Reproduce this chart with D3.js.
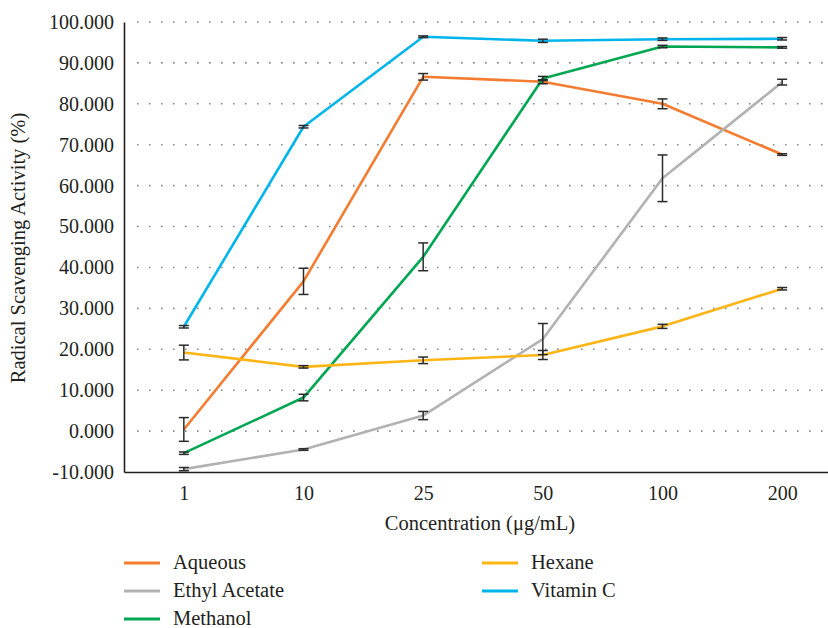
<!DOCTYPE html>
<html>
<head>
<meta charset="utf-8">
<title>Radical Scavenging Activity</title>
<script src="https://cdnjs.cloudflare.com/ajax/libs/d3/7.8.5/d3.min.js"></script>
<style>
body {
  margin: 0;
  background: #fff;
}
text {
  font-family: "Liberation Serif", "Times New Roman", serif;
  fill: #231f20;
}
.tick text { font-size: 20px; }
.title { font-size: 20.5px; }
.legend text { font-size: 20.5px; }
.grid line {
  stroke: #8a8a8a;
  stroke-width: 1.6px;
  stroke-dasharray: 1.6 10.4;
}
</style>
</head>
<body>
<svg id="chart" width="828" height="628"></svg>
<script>
// values
var concentrations = ["1", "10", "25", "50", "100", "200"];
var yTicks = [-10, 0, 10, 20, 30, 40, 50, 60, 70, 80, 90, 100];

var aqueous    = [0.4, 36.6, 86.6, 85.4, 80.0, 67.6];
var aqueousErr = [2.9, 3.2, 0.8, 0.5, 1.2, 0.2];
var ethyl      = [-9.3, -4.5, 3.8, 22.5, 61.8, 85.3];
var ethylErr   = [0.4, 0.2, 1.0, 3.8, 5.7, 0.7];
var methanol    = [-5.4, 8.2, 42.6, 86.2, 94.0, 93.8];
var methanolErr = [0.3, 0.8, 3.4, 0.5, 0.3, 0.2];
var hexane    = [19.2, 15.7, 17.3, 18.6, 25.6, 34.8];
var hexaneErr = [1.8, 0.3, 0.8, 1.1, 0.5, 0.3];
var vitaminC    = [25.5, 74.4, 96.4, 95.4, 95.8, 95.9];
var vitaminCErr = [0.3, 0.3, 0.2, 0.4, 0.3, 0.3];

var series = [
  {name: "Aqueous",       values: aqueous,  err: aqueousErr,  color: "#f47c30"},
  {name: "Ethyl Acetate", values: ethyl,    err: ethylErr,    color: "#b2b2b2"},
  {name: "Methanol",      values: methanol, err: methanolErr, color: "#00a651"},
  {name: "Hexane",        values: hexane,   err: hexaneErr,   color: "#fdb515"},
  {name: "Vitamin C",     values: vitaminC, err: vitaminCErr, color: "#00b5ec"}
];

var svg = d3.select("#chart");
var plotLeft = 124, plotRight = 842, plotTop = 22, plotBottom = 472;

var x = d3.scalePoint()
  .domain(concentrations)
  .range([plotLeft, plotRight])
  .padding(0.5);

var y = d3.scaleLinear()
  .domain([-10, 100])
  .range([plotBottom, plotTop]);

// dotted gridlines
svg.append("g")
  .attr("class", "grid")
  .selectAll("line")
  .data(yTicks.filter(function(d) { return d > -10; }))
  .enter().append("line")
    .attr("x1", plotLeft + 13)
    .attr("x2", plotRight)
    .attr("y1", function(d) { return y(d); })
    .attr("y2", function(d) { return y(d); });

// y axis
var yAxis = svg.append("g")
  .attr("transform", "translate(" + plotLeft + ",0)")
  .call(d3.axisLeft(y).tickValues(yTicks).tickSize(0).tickPadding(10)
    .tickFormat(function(d) { return d.toFixed(3); }));
yAxis.select(".domain").attr("stroke", "#231f20").attr("stroke-width", 1.6);
yAxis.selectAll(".tick text").attr("fill", "#231f20");
yAxis.attr("font-family", null).attr("font-size", null);

// x axis
var xAxis = svg.append("g")
  .attr("transform", "translate(0," + plotBottom + ")")
  .call(d3.axisBottom(x).tickSize(0).tickPadding(14));
xAxis.select(".domain").attr("stroke", "#231f20").attr("stroke-width", 1.6);
xAxis.selectAll(".tick text").attr("fill", "#231f20");
xAxis.attr("font-family", null).attr("font-size", null);

// lines
var line = d3.line()
  .x(function(d, i) { return x(concentrations[i]); })
  .y(function(d) { return y(d); });

series.forEach(function(s) {
  svg.append("path")
    .datum(s.values)
    .attr("fill", "none")
    .attr("stroke", s.color)
    .attr("stroke-width", 2.6)
    .attr("stroke-linejoin", "round")
    .attr("d", line);
});

// error bars
series.forEach(function(s) {
  var g = svg.append("g")
    .attr("stroke", "#2b2b2b")
    .attr("stroke-width", 1.5);
  s.values.forEach(function(v, i) {
    var cx = x(concentrations[i]),
      y0 = y(v - s.err[i]),
      y1 = y(v + s.err[i]);
    g.append("line").attr("x1", cx).attr("x2", cx).attr("y1", y0).attr("y2", y1);
    g.append("line").attr("x1", cx - 5).attr("x2", cx + 5).attr("y1", y0).attr("y2", y0);
    g.append("line").attr("x1", cx - 5).attr("x2", cx + 5).attr("y1", y1).attr("y2", y1);
  });
});

// axis titles
svg.append("text")
  .attr("class", "title")
  .attr("x", 480)
  .attr("y", 530)
  .attr("text-anchor", "middle")
  .text("Concentration (μg/mL)");

svg.append("text")
  .attr("class", "title")
  .attr("transform", "translate(25,248) rotate(-90)")
  .attr("text-anchor", "middle")
  .text("Radical Scavenging Activity (%)");

// legend
var legendPos = [[124, 563], [124, 591], [124, 619], [482, 563], [482, 591]];
var legend = svg.append("g").attr("class", "legend");
series.forEach(function(s, i) {
  var p = legendPos[i];
  legend.append("line")
    .attr("x1", p[0]).attr("x2", p[0] + 36)
    .attr("y1", p[1]).attr("y2", p[1])
    .attr("stroke", s.color)
    .attr("stroke-width", 3);
  legend.append("text")
    .attr("x", p[0] + 49)
    .attr("y", p[1] + 6)
    .text(s.name);
});
</script>
</body>
</html>
